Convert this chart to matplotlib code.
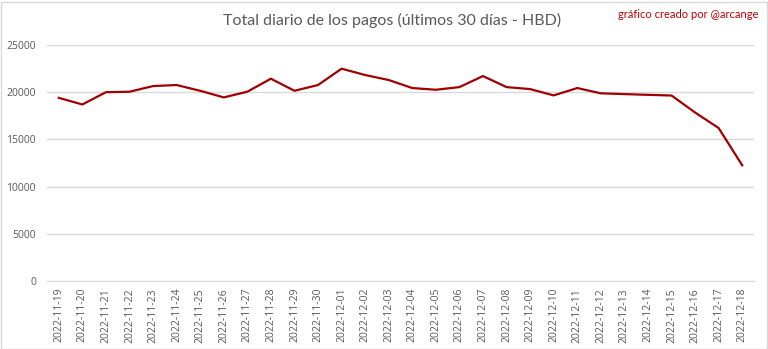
import matplotlib
matplotlib.use("Agg")
import matplotlib.pyplot as plt
from matplotlib.patches import Rectangle

dates = [
    "2022-11-19", "2022-11-20", "2022-11-21", "2022-11-22", "2022-11-23",
    "2022-11-24", "2022-11-25", "2022-11-26", "2022-11-27", "2022-11-28",
    "2022-11-29", "2022-11-30", "2022-12-01", "2022-12-02", "2022-12-03",
    "2022-12-04", "2022-12-05", "2022-12-06", "2022-12-07", "2022-12-08",
    "2022-12-09", "2022-12-10", "2022-12-11", "2022-12-12", "2022-12-13",
    "2022-12-14", "2022-12-15", "2022-12-16", "2022-12-17", "2022-12-18",
]
payouts = [
    19400, 18700, 20000, 20050, 20650, 20760, 20150, 19450, 20050, 21430,
    20150, 20760, 22490, 21820, 21290, 20440, 20260, 20540, 21710, 20540,
    20330, 19660, 20440, 19880, 19800, 19720, 19650, 17850, 16200, 12260,
]
yticks = [0, 5000, 10000, 15000, 20000, 25000]

W, H = 768, 349
fig = plt.figure(figsize=(W / 100, H / 100), dpi=100)
fig.patch.set_facecolor("white")
fig.add_artist(Rectangle((0.5 / W, 0.5 / H), 1 - 2 / W, 1 - 2 / H,
                         transform=fig.transFigure, fill=False,
                         edgecolor="#d9d9d9", linewidth=1))

left, right, top, bottom = 47, 754, 45, 281
ax = fig.add_axes([left / W, 1 - bottom / H, (right - left) / W, (bottom - top) / H])

x = list(range(len(dates)))
ax.plot(x, payouts, color="#a00000", linewidth=1.6, solid_joinstyle="round", zorder=3)

ax.set_xlim(-0.5, len(dates) - 0.5)
ax.set_ylim(0, 25000)
ax.set_yticks(yticks)
ax.set_yticklabels([str(v) for v in yticks])
ax.set_xticks(x)
ax.set_xticklabels(dates, rotation=90)
ax.grid(axis="y", color="#d9d9d9", linewidth=1)
ax.set_axisbelow(True)
for s in ["top", "right", "left"]:
    ax.spines[s].set_visible(False)
ax.spines["bottom"].set_color("#d9d9d9")
ax.tick_params(axis="both", length=0, labelsize=7.5, colors="#595959")
ax.tick_params(axis="y", pad=8)
ax.tick_params(axis="x", pad=5)
for lbl in ax.get_xticklabels() + ax.get_yticklabels():
    lbl.set_family("Open Sans")

fig.text(392 / W, 1 - 20 / H, "Total diario de los pagos (últimos 30 días - HBD)",
         ha="center", va="center", fontsize=11.5, color="#595959", family="Lato")
fig.text(758 / W, 1 - 14 / H, "gráfico creado por @arcange",
         ha="right", va="center", fontsize=8, color="#c00000", family="Lato")

fig.savefig("out.png", dpi=100)
